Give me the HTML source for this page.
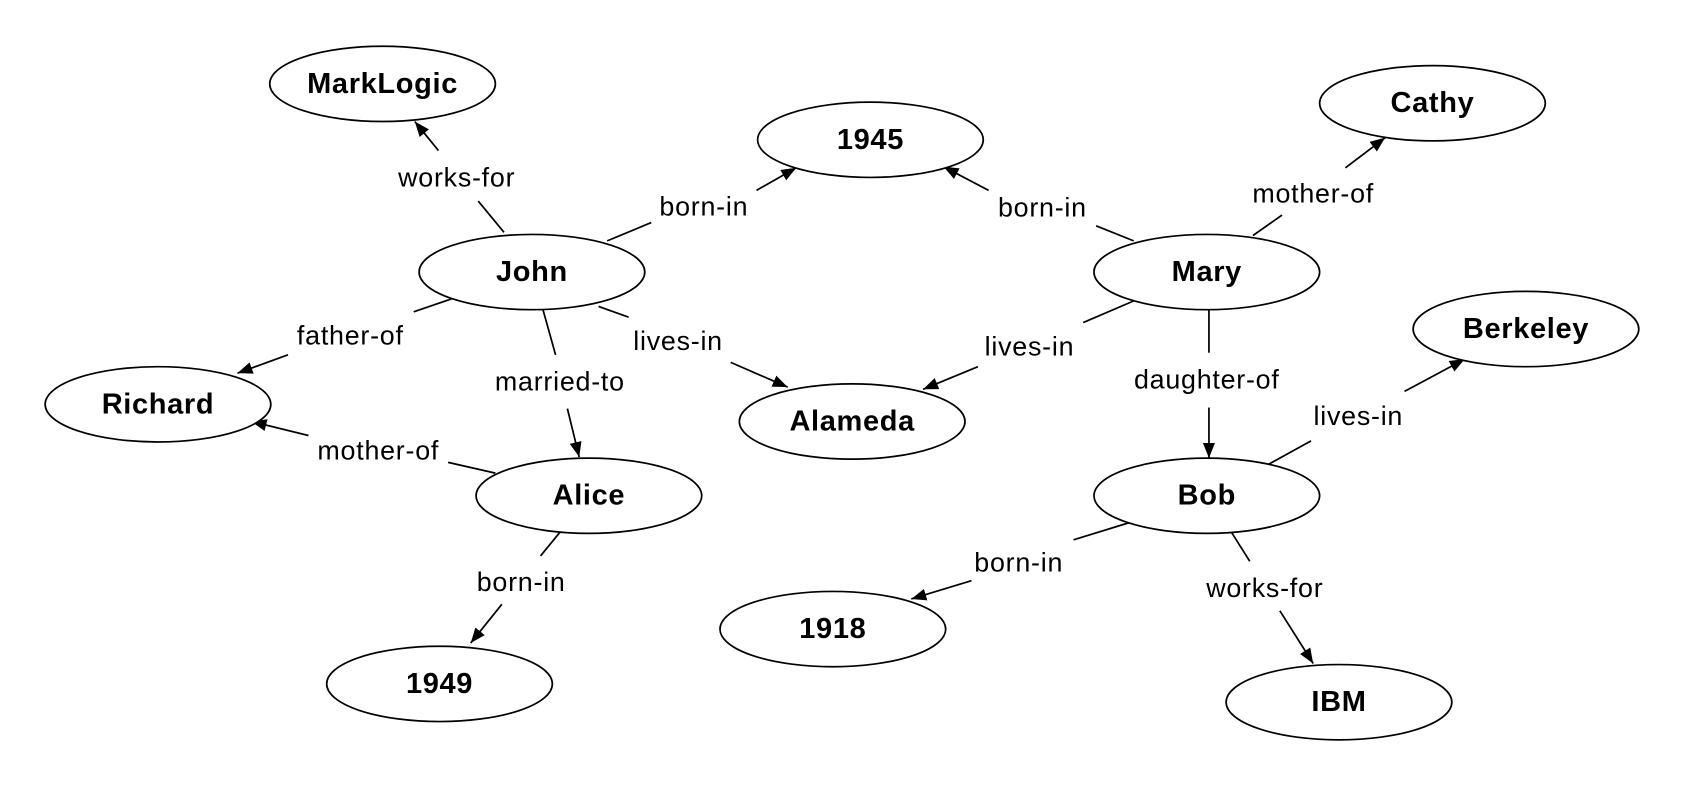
<!DOCTYPE html>
<html><head><meta charset="utf-8"><style>
html,body{margin:0;padding:0;background:#fff;}
svg{display:block;}
.n{font-family:"Liberation Sans",Arial,sans-serif;font-weight:bold;font-size:27px;letter-spacing:0.6px;text-anchor:middle;dominant-baseline:central;fill:#000;}
.e{font-family:"Liberation Sans",Arial,sans-serif;font-size:25px;letter-spacing:0.7px;text-anchor:middle;dominant-baseline:central;fill:#000;}
ellipse{fill:#fff;stroke:#000;stroke-width:1.6;}
line{stroke:#000;stroke-width:1.6;}
</style></head><body>
<svg width="1685" height="785" viewBox="0 0 1568 730" preserveAspectRatio="none" xmlns="http://www.w3.org/2000/svg">
<defs>
<marker id="b" viewBox="0 0 10 10" refX="10" refY="5" markerWidth="14" markerHeight="14" markerUnits="userSpaceOnUse" orient="auto"><path d="M0,1 L10,5 L0,9 z" fill="#000"/></marker></defs>
<g>
<line x1="469" y1="216" x2="445" y2="187"/><line x1="408" y1="140" x2="386" y2="113" marker-end="url(#b)"/>
<line x1="565" y1="224" x2="606" y2="207"/><line x1="704" y1="177" x2="741" y2="156" marker-end="url(#b)"/>
<line x1="1055" y1="224" x2="1020" y2="210"/><line x1="920" y1="177" x2="878" y2="155" marker-end="url(#b)"/>
<line x1="1166" y1="219" x2="1193" y2="200"/><line x1="1252" y1="156" x2="1289" y2="128" marker-end="url(#b)"/>
<line x1="420" y1="278" x2="385" y2="290"/><line x1="268" y1="330" x2="221" y2="347" marker-end="url(#b)"/>
<line x1="505" y1="287" x2="517" y2="330"/><line x1="528" y1="380" x2="539" y2="425" marker-end="url(#b)"/>
<line x1="557" y1="285" x2="585" y2="295"/><line x1="680" y1="337" x2="733" y2="360" marker-end="url(#b)"/>
<line x1="1057" y1="279" x2="1008" y2="300"/><line x1="910" y1="341" x2="859" y2="362" marker-end="url(#b)"/>
<line x1="1125" y1="286" x2="1125" y2="328"/><line x1="1125" y1="379" x2="1125" y2="426" marker-end="url(#b)"/>
<line x1="1180" y1="432" x2="1220" y2="410"/><line x1="1307" y1="364" x2="1363" y2="334" marker-end="url(#b)"/>
<line x1="461" y1="440" x2="417" y2="430"/><line x1="287" y1="405" x2="234" y2="392" marker-end="url(#b)"/>
<line x1="521" y1="495" x2="503" y2="517"/><line x1="467" y1="562" x2="438" y2="598" marker-end="url(#b)"/>
<line x1="1051" y1="486" x2="999" y2="502"/><line x1="904" y1="540" x2="848" y2="557" marker-end="url(#b)"/>
<line x1="1146" y1="495" x2="1163" y2="522"/><line x1="1191" y1="568" x2="1222" y2="617" marker-end="url(#b)"/>
</g>
<g>
<text class="e" x="425" y="165">works-for</text>
<text class="e" x="655" y="192">born-in</text>
<text class="e" x="970" y="193">born-in</text>
<text class="e" x="1222" y="180">mother-of</text>
<text class="e" x="326" y="312">father-of</text>
<text class="e" x="521" y="355">married-to</text>
<text class="e" x="631" y="317">lives-in</text>
<text class="e" x="958" y="322">lives-in</text>
<text class="e" x="1123" y="353">daughter-of</text>
<text class="e" x="1264" y="387">lives-in</text>
<text class="e" x="352" y="419">mother-of</text>
<text class="e" x="485" y="541">born-in</text>
<text class="e" x="948" y="523">born-in</text>
<text class="e" x="1177" y="547">works-for</text>
</g>
<g>
<ellipse cx="356" cy="78" rx="105" ry="35"/><text class="n" x="356" y="78">MarkLogic</text>
<ellipse cx="810" cy="130" rx="105" ry="35"/><text class="n" x="810" y="130">1945</text>
<ellipse cx="1333" cy="96" rx="105" ry="35"/><text class="n" x="1333" y="96">Cathy</text>
<ellipse cx="495" cy="253" rx="105" ry="35"/><text class="n" x="495" y="253">John</text>
<ellipse cx="1123" cy="253" rx="105" ry="35"/><text class="n" x="1123" y="253">Mary</text>
<ellipse cx="1420" cy="306" rx="105" ry="35"/><text class="n" x="1420" y="306">Berkeley</text>
<ellipse cx="147" cy="376" rx="105" ry="35"/><text class="n" x="147" y="376">Richard</text>
<ellipse cx="793" cy="392" rx="105" ry="35"/><text class="n" x="793" y="392">Alameda</text>
<ellipse cx="548" cy="461" rx="105" ry="35"/><text class="n" x="548" y="461">Alice</text>
<ellipse cx="1123" cy="461" rx="105" ry="35"/><text class="n" x="1123" y="461">Bob</text>
<ellipse cx="775" cy="585" rx="105" ry="35"/><text class="n" x="775" y="585">1918</text>
<ellipse cx="409" cy="636" rx="105" ry="35"/><text class="n" x="409" y="636">1949</text>
<ellipse cx="1246" cy="653" rx="105" ry="35"/><text class="n" x="1246" y="653">IBM</text>
</g>
</svg>
</body></html>
